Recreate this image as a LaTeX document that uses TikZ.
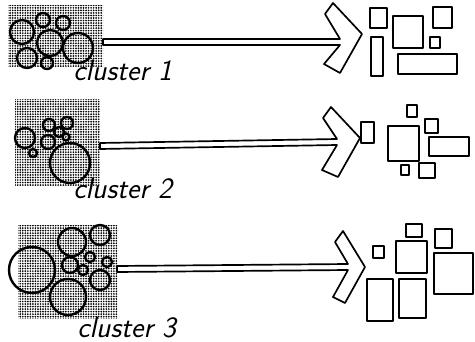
\documentclass[tikz,border=0pt]{standalone}
\usepackage{tikz}
\usetikzlibrary{patterns.meta}
\tikzset{
  stipple/.style={pattern={Dots[distance=1.8pt, radius=0.68pt]}, pattern color=black},
  blob/.style={draw=black, line width=1.7pt},
  cell/.style={draw=black, line width=1.3pt, line join=round},
  arrowline/.style={draw=black, line width=1.2pt, line join=round},
  lbl/.style={anchor=base west, inner sep=0pt, font=\sffamily\itshape\fontsize{21}{24}\selectfont}
}
\begin{document}
\begin{tikzpicture}[x=0.025cm, y=-0.025cm]
\useasboundingbox (0,0) rectangle (475,342);

% cluster 1
\path[stipple] (8,5) rectangle (103,66);
\draw[blob] (22,32) circle[radius=12];
\draw[blob] (43,20) circle[radius=7];
\draw[blob] (63,23) circle[radius=7];
\draw[blob] (50,43) circle[radius=13];
\draw[blob] (78,48) circle[radius=15];
\draw[blob] (27,58) circle[radius=10];
\draw[blob] (47,63) circle[radius=6];
\node[lbl] (lab1) at (73,80) {cluster 1};
\coordinate (t1) at (103,39);  \coordinate (b1) at (103,45);
\coordinate (nt1) at (340,39); \coordinate (nb1) at (340,45);
\coordinate (ca1) at (325,14); \coordinate (cb1) at (333,3);
\coordinate (tip1) at (362,34);
\coordinate (cd1) at (340,73); \coordinate (ce1) at (324,64);
\draw[arrowline] (b1) -- (t1) -- (nt1) -- (ca1) -- (cb1) -- (tip1) -- (cd1) -- (ce1) -- (nb1) -- cycle;
\draw[cell] (370,8) rectangle (387,28);
\draw[cell] (371,37) rectangle (383,76);
\draw[cell] (393,16) rectangle (423,48);
\draw[cell] (433,7) rectangle (452,28);
\draw[cell] (430,37) rectangle (440,48);
\draw[cell] (398,54) rectangle (457,74);

% cluster 2
\path[stipple] (15,99) rectangle (100,185);
\draw[blob] (25,138) circle[radius=10];
\draw[blob] (33,153) circle[radius=4];
\draw[blob] (49,125) circle[radius=6];
\draw[blob] (67,123) circle[radius=6];
\draw[blob] (48,142) circle[radius=7];
\draw[blob] (59,132) circle[radius=5];
\draw[blob] (66,137) circle[radius=3.5];
\draw[blob] (70,163) circle[radius=20];
\node[lbl] (lab2) at (73,198) {cluster 2};
\coordinate (t2) at (100,143);  \coordinate (b2) at (100,149);
\coordinate (nt2) at (337,139); \coordinate (nb2) at (337,145);
\coordinate (ca2) at (323,118); \coordinate (cb2) at (331,107);
\coordinate (tip2) at (360,138);
\coordinate (cd2) at (338,177); \coordinate (ce2) at (322,170);
\draw[arrowline] (b2) -- (t2) -- (nt2) -- (ca2) -- (cb2) -- (tip2) -- (cd2) -- (ce2) -- (nb2) -- cycle;
\draw[cell] (361,122) rectangle (374,143);
\draw[cell] (407,105) rectangle (417,117);
\draw[cell] (388,126) rectangle (419,161);
\draw[cell] (425,119) rectangle (438,133);
\draw[cell] (429,137) rectangle (469,156);
\draw[cell] (401,165) rectangle (409,175);
\draw[cell] (419,163) rectangle (435,178);

% cluster 3
\path[stipple] (18,225) rectangle (117,318);
\draw[blob] (32,270) circle[radius=23];
\draw[blob] (72,242) circle[radius=14];
\draw[blob] (100,235) circle[radius=10];
\draw[blob] (70,265) circle[radius=8];
\draw[blob] (90,257) circle[radius=5];
\draw[blob] (107,262) circle[radius=5];
\draw[blob] (83,270) circle[radius=5];
\draw[blob] (100,280) circle[radius=10];
\draw[blob] (68,297) circle[radius=18];
\node[lbl] (lab3) at (77,337) {cluster 3};
\coordinate (t3) at (117,266);  \coordinate (b3) at (117,272);
\coordinate (nt3) at (348,264); \coordinate (nb3) at (348,270);
\coordinate (ca3) at (335,242); \coordinate (cb3) at (343,231);
\coordinate (tip3) at (365,267);
\coordinate (cd3) at (345,303); \coordinate (ce3) at (333,297);
\draw[arrowline] (b3) -- (t3) -- (nt3) -- (ca3) -- (cb3) -- (tip3) -- (cd3) -- (ce3) -- (nb3) -- cycle;
\draw[cell] (373,246) rectangle (384,258);
\draw[cell] (406,224) rectangle (422,237);
\draw[cell] (396,241) rectangle (427,273);
\draw[cell] (435,229) rectangle (452,248);
\draw[cell] (434,253) rectangle (473,294);
\draw[cell] (367,279) rectangle (393,321);
\draw[cell] (399,279) rectangle (426,318);
\end{tikzpicture}
\end{document}
